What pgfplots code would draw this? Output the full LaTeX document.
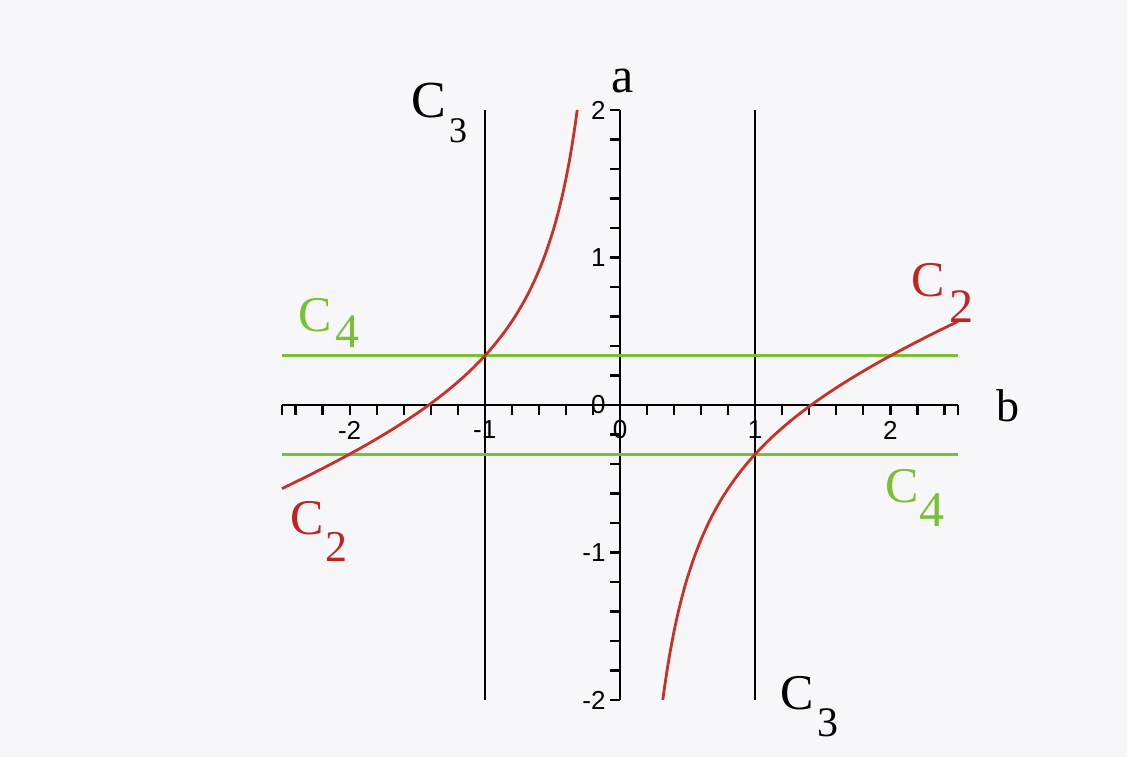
\documentclass[border=0pt]{standalone}
\usepackage{pgfplots}
\pgfplotsset{compat=1.18}
\usepackage{fontspec}
\setmainfont{Liberation Serif}
\newfontfamily\ticksans{Liberation Sans}

\definecolor{bg}{RGB}{247,247,249}
\definecolor{curvered}{RGB}{200,48,44}
\definecolor{textred}{RGB}{192,36,34}
\definecolor{linegreen}{RGB}{122,192,52}

% branch b<0 of the curve c2
\pgfplotstableread{
b a
-2.5 -0.5667
-2.4 -0.5222
-2.3 -0.4768
-2.2 -0.4303
-2.1 -0.3825
-2.0 -0.3333
-1.9 -0.2825
-1.8 -0.2296
-1.7 -0.1745
-1.6 -0.1167
-1.5 -0.0556
-1.4 0.0095
-1.3 0.0795
-1.2 0.1556
-1.1 0.2394
-1.0 0.3333
-0.95 0.3851
-0.9 0.4407
-0.85 0.5010
-0.8 0.5667
-0.75 0.6389
-0.7 0.7190
-0.65 0.8090
-0.6 0.9111
-0.55 1.0288
-0.5 1.1667
-0.475 1.2452
-0.45 1.3315
-0.425 1.4270
-0.4 1.5333
-0.375 1.6528
-0.35 1.7881
-0.33 1.9102
-0.3166 2.0000
}\leftbranch

% branch b>0 of the curve c2
\pgfplotstableread{
b a
0.3166 -2.0000
0.33 -1.9102
0.35 -1.7881
0.375 -1.6528
0.4 -1.5333
0.425 -1.4270
0.45 -1.3315
0.475 -1.2452
0.5 -1.1667
0.55 -1.0288
0.6 -0.9111
0.65 -0.8090
0.7 -0.7190
0.75 -0.6389
0.8 -0.5667
0.85 -0.5010
0.9 -0.4407
0.95 -0.3851
1.0 -0.3333
1.1 -0.2394
1.2 -0.1556
1.3 -0.0795
1.4 -0.0095
1.5 0.0556
1.6 0.1167
1.7 0.1745
1.8 0.2296
1.9 0.2825
2.0 0.3333
2.1 0.3825
2.2 0.4303
2.3 0.4768
2.4 0.5222
2.5 0.5667
}\rightbranch

\begin{document}
\begin{tikzpicture}[x=1pt,y=1pt]
\fill[bg] (0,0) rectangle (1127,757);
\begin{axis}[
  at={(282pt,57pt)}, anchor=south west,
  scale only axis, width=676pt, height=590pt,
  xmin=-2.5, xmax=2.5, ymin=-2, ymax=2,
  axis lines=center,
  axis line style={line width=2.6pt, -},
  every inner x axis line/.append style={line width=2.6pt},
  every inner y axis line/.append style={line width=2.6pt},
  clip=false,
  xtick={-2,-1,0,1,2},
  ytick={-2,-1,0,1,2},
  minor xtick={-2.5,-2.4,-2.2,-2,-1.8,-1.6,-1.4,-1.2,-1,-0.8,-0.6,-0.4,-0.2,0,0.2,0.4,0.6,0.8,1,1.2,1.4,1.6,1.8,2,2.2,2.4,2.5},
  minor ytick={-2,-1.8,-1.6,-1.4,-1.2,-1,-0.8,-0.6,-0.4,-0.2,0,0.2,0.4,0.6,0.8,1,1.2,1.4,1.6,1.8,2},
  tick align=outside,
  major tick length=10pt, minor tick length=10pt,
  tick style={black, line width=2.2pt},
  minor tick style={black, line width=2.2pt},
  hide obscured x ticks=false, hide obscured y ticks=false,
  /pgf/number format/assume math mode=true,
  ticklabel style={font=\ticksans\fontsize{26}{26}\selectfont},
  xticklabel style={anchor=center, yshift=-15pt},
  yticklabel style={anchor=east, xshift=-1pt},
]
% vertical lines C3
\addplot[black, line width=2.2pt] coordinates {(-1,-2) (-1,2)};
\addplot[black, line width=2.2pt] coordinates {(1,-2) (1,2)};
% horizontal lines C4
\addplot[linegreen, line width=3pt] coordinates {(-2.5,0.3333) (2.5,0.3333)};
\addplot[linegreen, line width=3pt] coordinates {(-2.5,-0.3333) (2.5,-0.3333)};
% curve C2
\addplot[curvered, line width=2.8pt, smooth] table[x=b, y=a] {\leftbranch};
\addplot[curvered, line width=2.8pt, smooth] table[x=b, y=a] {\rightbranch};
\end{axis}

% axis names
\node[anchor=base, inner sep=0pt, font=\fontsize{50}{50}\selectfont] at (623,664) {a};
\node[anchor=base west, inner sep=0pt, font=\fontsize{46}{46}\selectfont] at (996,335) {b};

% C3 (top left)
\node[anchor=base west, inner sep=0pt, font=\fontsize{52}{52}\selectfont] at (411,639) {C};
\node[anchor=base west, inner sep=0pt, font=\fontsize{36}{36}\selectfont] at (449,614) {3};
% C3 (bottom right)
\node[anchor=base west, inner sep=0pt, font=\fontsize{50}{50}\selectfont] at (780,47) {C};
\node[anchor=base west, inner sep=0pt, font=\fontsize{42}{42}\selectfont] at (817,20) {3};
% C4 (left)
\node[anchor=base west, inner sep=0pt, text=linegreen, font=\fontsize{50}{50}\selectfont] at (298,425) {C};
\node[anchor=base west, inner sep=0pt, text=linegreen, font=\fontsize{48}{48}\selectfont] at (335,409) {4};
% C4 (right)
\node[anchor=base west, inner sep=0pt, text=linegreen, font=\fontsize{50}{50}\selectfont] at (885,254) {C};
\node[anchor=base west, inner sep=0pt, text=linegreen, font=\fontsize{50}{50}\selectfont] at (919,230) {4};
% c2 (top right)
\node[anchor=base west, inner sep=0pt, text=textred, font=\fontsize{50}{50}\selectfont] at (911,460) {C};
\node[anchor=base west, inner sep=0pt, text=textred, font=\fontsize{48}{48}\selectfont] at (949,434) {2};
% c2 (bottom left)
\node[anchor=base west, inner sep=0pt, text=textred, font=\fontsize{50}{50}\selectfont] at (290,222) {C};
\node[anchor=base west, inner sep=0pt, text=textred, font=\fontsize{44}{44}\selectfont] at (325,195) {2};
\end{tikzpicture}
\end{document}
